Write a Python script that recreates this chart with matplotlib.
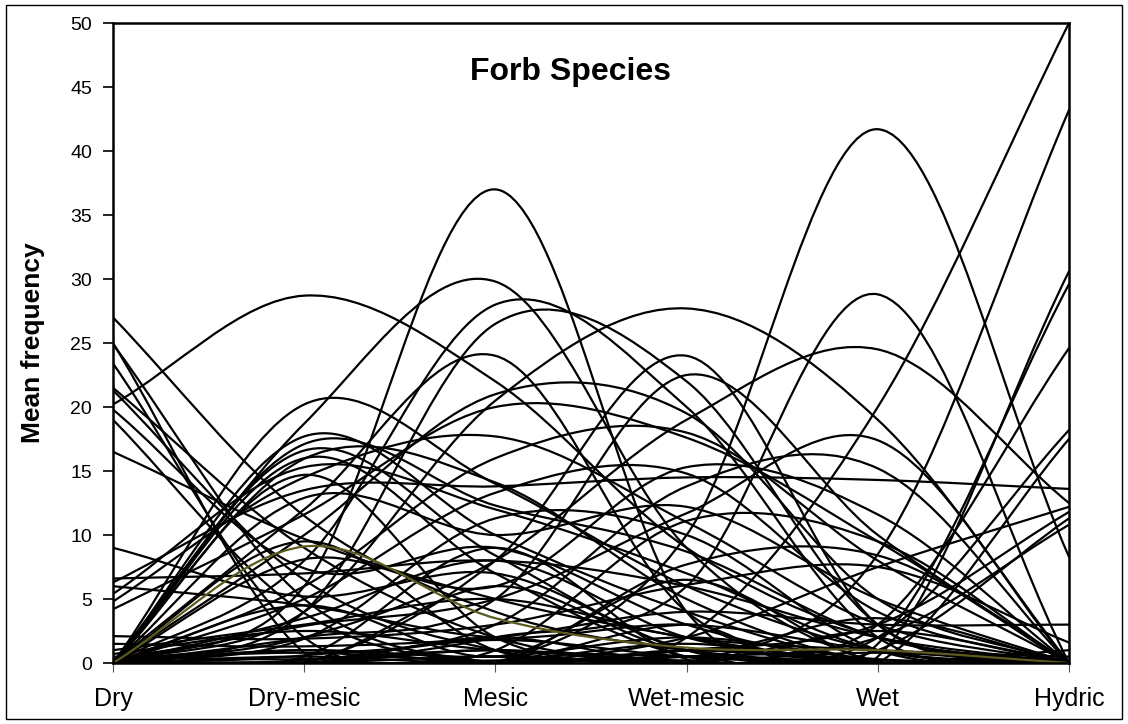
import matplotlib
matplotlib.use("Agg")
import matplotlib.pyplot as plt
import numpy as np
from matplotlib.path import Path
from matplotlib.patches import PathPatch, Rectangle

plt.rcParams["font.family"] = ["Liberation Sans", "DejaVu Sans"]

categories = ["Dry", "Dry-mesic", "Mesic", "Wet-mesic", "Wet", "Hydric"]

# each row = one species: Dry, Dry-mesic, Mesic, Wet-mesic, Wet, Hydric
mid_peaks = [
    [20.2, 28.7, 22, 9, 2, 0],
    [0, 6, 37, 4, 0, 0],
    [0, 0, 0, 10, 41.7, 8.3],
    [0, 18.7, 29.8, 9, 0, 0],
    [0, 8, 28, 20, 2, 0],
    [0, 4, 26.5, 22, 3, 0],
    [0, 12, 24, 4, 0, 0],
    [0, 4, 20.5, 27.7, 19, 0],
    [0, 0, 8, 24, 3, 0],
    [0, 2, 5, 22.5, 10, 0],
    [0, 10, 21, 19.5, 5, 0],
    [0, 6, 16, 18, 8, 0],
    [0, 0, 2, 6, 28.8, 0],
    [0, 2, 8, 19, 24.5, 12.5],
]
hydric_rising = [
    [0, 0, 0, 2, 20, 50],
    [0, 0, 0, 0, 8.5, 43.2],
    [0, 0, 0, 3, 0.5, 30.6],
    [0, 0, 2, 0, 1.5, 29.6],
    [0, 0, 0, 1, 3, 24.6],
    [0, 0, 1, 0, 2, 18.2],
    [0, 1, 0, 0.5, 0, 17.5],
    [6.3, 13.5, 13.8, 14.5, 14.3, 13.6],
    [0, 0, 0, 2, 7.5, 12.2],
    [0, 0.5, 0, 1, 3, 11.8],
    [0, 0, 0.5, 0, 1, 11.3],
    [0, 0, 0, 0.5, 2, 10.8],
]
dry_start = [
    [27, 11.5, 4, 1, 0, 0],
    [25, 0.8, 0, 0, 0, 0],
    [24.9, 5, 0, 0.5, 0, 0],
    [23.4, 2, 0.5, 0, 0, 0],
    [21.5, 9, 2, 0, 0, 0],
    [21.3, 6.5, 1, 0, 0, 0],
    [19.8, 7.4, 9, 3, 0, 0],
    [19.0, 3.9, 0, 1, 0, 0],
    [16.5, 9.7, 5, 2, 0, 0],
    [9, 5.2, 7, 1, 0, 0],
    [6.6, 7, 8, 6, 2, 0],
    [6.0, 4.5, 2, 3, 1, 0],
    [5.4, 15.3, 12, 7, 1, 0],
    [4.8, 14.5, 17.7, 11, 3, 0],
    [4.2, 11.6, 20, 17.6, 9.5, 0],
    [2.1, 1.9, 3, 6.1, 7.5, 1.6],
    [1.5, 1.3, 2, 4, 3, 3.0],
    [1.0, 3, 5, 2, 1, 0.5],
]
dry_mesic_peaks = [
    [0, 20.2, 14, 6, 1, 0],
    [0, 17.7, 10, 4, 0, 0],
    [0, 17.1, 12.3, 8.7, 2, 0],
    [0, 16.6, 8.4, 1, 0, 0],
    [0, 16.0, 7, 0.5, 0, 0],
    [0, 15.95, 14.1, 5, 0, 0],
    [0, 14.7, 2, 0, 0, 0],
    [0, 12.9, 10, 12.2, 5, 0],
    [0, 9.5, 1, 0, 2.5, 0],
    [0, 8.1, 6, 15.3, 11.6, 0],
    [0, 3.5, 8, 2, 0, 0],
    [0, 2.9, 5, 11.7, 17.4, 0],
    [0, 0.6, 3, 13.8, 15.2, 0],
    [0, 0, 1, 11.1, 9.5, 0],
    [0, 0, 0, 7.7, 8.4, 0],
    [0, 1.9, 11.3, 10, 1, 0],
    [0, 5, 13.3, 14.8, 4, 0],
]
low_lines = [
    [0, 1, 0.5, 2, 0.3, 0],
    [0.5, 0.3, 1, 0.2, 0.8, 0],
    [0.3, 0.8, 0.2, 1.5, 0, 0],
    [0, 0.2, 1.8, 0.5, 0.2, 0],
    [0, 4.5, 0.5, 6.5, 0, 0],
    [0, 0, 6, 1, 3.5, 0],
    [0.7, 2.5, 1, 0.5, 0, 1],
    [0, 0.5, 9, 0.3, 0, 0],
]
olive_line = [0, 9.1, 3.5, 1.2, 1, 0]


def smooth_path(vals):
    # Excel-style smoothed line: cubic Bezier, control points from neighbours
    n = len(vals)
    pts = np.column_stack([np.arange(n), vals]).astype(float)
    ext = np.vstack([2 * pts[0] - pts[1], pts, 2 * pts[-1] - pts[-2]])
    verts = [pts[0]]
    codes = [Path.MOVETO]
    for i in range(n - 1):
        p0, p1, p2, p3 = ext[i], ext[i + 1], ext[i + 2], ext[i + 3]
        verts += [p1 + (p2 - p0) / 6, p2 - (p3 - p1) / 6, p2]
        codes += [Path.CURVE4] * 3
    return Path(verts, codes)


fig = plt.figure(figsize=(11.28, 7.24), dpi=100)
ax = fig.add_axes([113 / 1128, 1 - 663 / 724, 956 / 1128, 640 / 724])

all_rows = mid_peaks + hydric_rising + dry_start + dry_mesic_peaks + low_lines
for row in all_rows:
    ax.add_patch(PathPatch(smooth_path(row), fill=False, edgecolor="black",
                           lw=1.6, capstyle="round", joinstyle="round"))
ax.add_patch(PathPatch(smooth_path(olive_line), fill=False, edgecolor="#5c5a1e",
                       lw=1.6, capstyle="round", joinstyle="round"))

ax.set_xlim(0, 5)
ax.set_ylim(0, 50)
ax.set_yticks(np.arange(0, 51, 5))
ax.set_xticks(range(len(categories)))
ax.set_xticklabels(categories, fontsize=18)
ax.tick_params(axis="y", labelsize=14, direction="out", length=7, width=1.2, pad=8)
ax.tick_params(axis="x", direction="out", length=6.5, width=0.8, color="#555555", pad=11)
for s in ax.spines.values():
    s.set_linewidth(1.8)

ax.set_ylabel("Mean frequency", fontsize=19, fontweight="bold", labelpad=18)
fig.text(570 / 1128, 1 - 80 / 724, "Forb Species", fontsize=23,
         fontweight="bold", ha="center", va="baseline")

fig.patches.append(Rectangle((6 / 1128, 5 / 724), 1116 / 1128, 714 / 724,
                             transform=fig.transFigure, fill=False,
                             edgecolor="black", lw=1))

fig.savefig("out.png", dpi=100)
